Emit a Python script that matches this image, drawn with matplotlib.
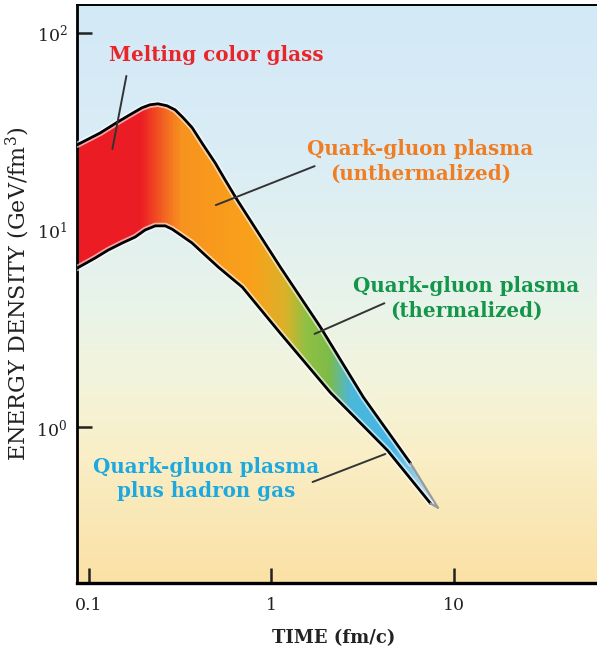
"""
    Energy density vs. time in a heavy-ion collision:
    melting colour glass -> QGP -> QGP + hadron gas.
"""

import numpy as np
import matplotlib.pyplot as plt
import matplotlib.patheffects as pe
from matplotlib.colors import LinearSegmentedColormap

plt.rcParams["font.family"] = ["DejaVu Serif"]
plt.rcParams["mathtext.fontset"] = "dejavuserif"

# upper edge of the band (time in fm/c, energy density in GeV/fm^3)
upper_t = [0.086, 0.115, 0.144, 0.168, 0.195, 0.216, 0.239, 0.268, 0.297,
           0.328, 0.368, 0.423, 0.492, 0.559, 0.650, 1.12, 1.86, 3.20,
           5.81, 8.17]
upper_e = [27.0, 31.0, 35.3, 38.4, 41.6, 43.1, 43.6, 42.6, 40.6,
           37.1, 33.0, 27.0, 21.9, 17.9, 14.2, 6.49, 3.22, 1.42,
           0.656, 0.393]

# lower edge of the band
lower_t = [0.086, 0.108, 0.127, 0.152, 0.179, 0.203, 0.231, 0.262, 0.286,
           0.324, 0.368, 0.434, 0.512, 0.596, 0.693, 1.12, 2.11, 4.34,
           7.48, 8.17]
lower_e = [6.41, 7.21, 7.90, 8.59, 9.21, 10.0, 10.5, 10.5, 10.1,
           9.33, 8.59, 7.46, 6.49, 5.77, 5.14, 3.00, 1.50, 0.764,
           0.411, 0.393]

x_ticks = [0.1, 1, 10]
x_ticklabels = ["0.1", "1", "10"]
y_ticks = [1, 10, 100]
y_ticklabels = ["10$^{0}$", "10$^{1}$", "10$^{2}$"]

# colour along the band (fraction of its log-time extent)
band_stops = [
    (0.0, "#ec1c24"), (0.175, "#ec1c24"), (0.245, "#f26a21"),
    (0.29, "#f7931e"), (0.49, "#f9a11b"), (0.58, "#d8b22a"),
    (0.635, "#8fc043"), (0.70, "#7dbb48"), (0.76, "#4bb7d9"),
    (0.88, "#45b5e6"), (1.0, "#d5e2e6"),
]
bg_stops = [
    (0.0, "#fbe1a5"), (0.23, "#f9efc8"), (0.35, "#f3f4dc"),
    (0.49, "#e8f3ea"), (0.75, "#daedf6"), (1.0, "#d3e9f7"),
]

fig = plt.figure(figsize=(5.97, 6.55), dpi=100)
pos = [77 / 597, 72 / 655, 520 / 597, 578 / 655]

# background gradient in its own axes behind the plot
bg = fig.add_axes(pos, zorder=0)
bg_cmap = LinearSegmentedColormap.from_list("bg", bg_stops)
bg.imshow(np.linspace(0, 1, 256)[::-1].reshape(-1, 1), cmap=bg_cmap,
          aspect="auto", extent=[0, 1, 0, 1], interpolation="bicubic")
bg.axis("off")

ax = fig.add_axes(pos, zorder=1)
ax.set_facecolor("none")
ax.set_xscale("log")
ax.set_yscale("log")
ax.set_xlim(0.086, 61)
ax.set_ylim(0.163, 138)

# band outline polygon, used as a clip path for the gradient
poly_t = upper_t + lower_t[::-1]
poly_e = upper_e + lower_e[::-1]
band = ax.fill(poly_t, poly_e, facecolor="none", edgecolor="none")[0]

band_cmap = LinearSegmentedColormap.from_list("band", band_stops)
edges = np.logspace(np.log10(upper_t[0]), np.log10(upper_t[-1]), 260)
for i in range(len(edges) - 1):
    f = i / (len(edges) - 2)
    span = ax.axvspan(edges[i], edges[i + 1] * 1.003, color=band_cmap(f),
                      lw=0, zorder=2)
    span.set_clip_path(band)

halo = [pe.Stroke(linewidth=4.5, foreground="white", alpha=0.6), pe.Normal()]
for t, e in [(upper_t, upper_e), (lower_t, lower_e)]:
    ax.plot(t[:-1], e[:-1], color="black", lw=2, zorder=3, path_effects=halo,
            solid_capstyle="round", solid_joinstyle="round")
    ax.plot(t[-2:], e[-2:], color="#9a9a9a", lw=1.6, zorder=3)

# labels with leader lines
labels = [
    ("Melting color glass", "#e8262a", (0.267, 0.913),
     (0.096, 0.882), (0.067, 0.746)),
    ("Quark-gluon plasma\n(unthermalized)", "#f07d22", (0.66, 0.730),
     (0.462, 0.723), (0.262, 0.652)),
    ("Quark-gluon plasma\n(thermalized)", "#14964a", (0.748, 0.493),
     (0.596, 0.486), (0.452, 0.429)),
    ("Quark-gluon plasma\nplus hadron gas", "#1ea8e0", (0.248, 0.180),
     (0.448, 0.173), (0.598, 0.225)),
]
for text, color, xy_text, start, end in labels:
    ax.text(*xy_text, text, transform=ax.transAxes, color=color,
            fontsize=14.3, fontweight="bold", ha="center", va="center",
            multialignment="center", linespacing=1.3, zorder=5)
    ax.annotate("", xy=end, xytext=start, xycoords="axes fraction",
                textcoords="axes fraction",
                arrowprops=dict(arrowstyle="-", color="#333333", lw=1.4),
                zorder=4)

ax.set_xticks(x_ticks)
ax.set_xticklabels(x_ticklabels)
ax.set_yticks(y_ticks)
ax.set_yticklabels(y_ticklabels)
ax.minorticks_off()
ax.tick_params(direction="in", length=11, width=1.8, labelsize=12.5,
               colors="#222222")
ax.tick_params(axis="x", pad=10)
ax.tick_params(axis="y", pad=7)

ax.spines["right"].set_visible(False)
ax.spines["left"].set_linewidth(2)
ax.spines["bottom"].set_linewidth(2.4)
ax.spines["top"].set_linewidth(1.4)

fig.text(18 / 597, 1 - 294 / 655, "ENERGY DENSITY (GeV/fm$^{3}$)",
         rotation=90, ha="center", va="center", fontsize=16, color="#222222")
fig.text(334 / 597, 1 - 638 / 655, "TIME (fm/c)", ha="center", va="center",
         fontsize=13, fontweight="bold", color="#222222")

plt.savefig("out.png", dpi=100)
